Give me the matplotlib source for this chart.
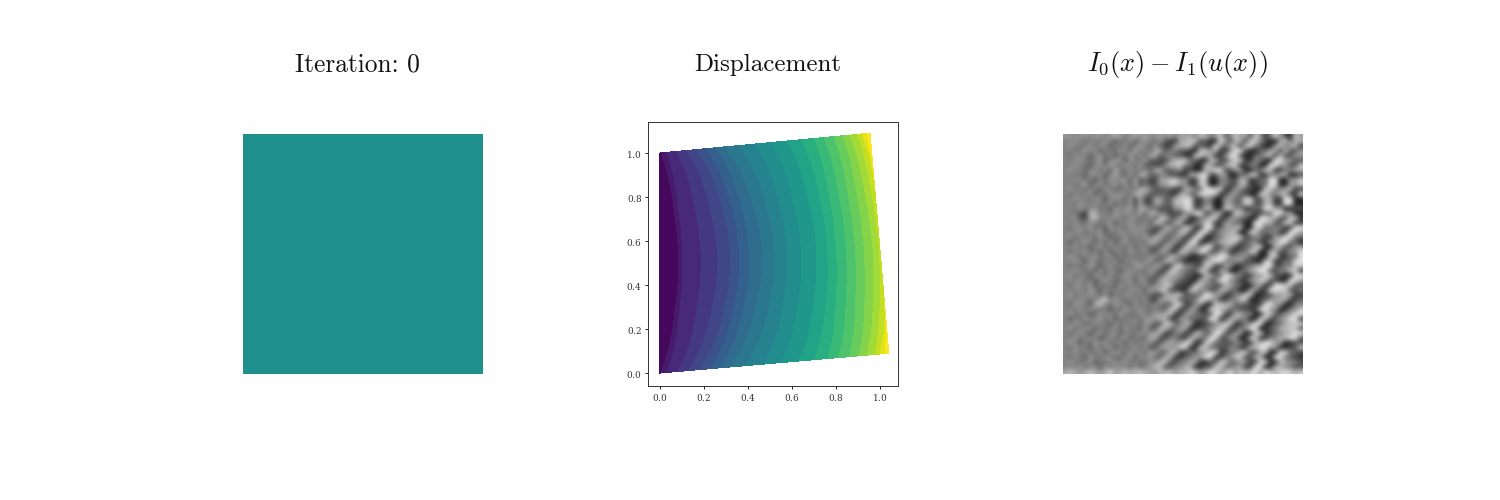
import numpy as np
import matplotlib
matplotlib.use('Agg')
import matplotlib.pyplot as plt

plt.rcParams['mathtext.fontset'] = 'cm'
plt.rcParams['axes.formatter.use_mathtext'] = True

titles = ['Iteration: 0', 'Displacement', r'$I_0(x) - I_1(u(x))$']
title_x = [357, 768, 1177]
title_size = [18.3, 18.0, 19.0]

# first panel, one flat value
iterate = [[0.0]]

# corners of the deformed square: bottom left, bottom right, top right, top left
corner_x = [0.0, 1.04, 0.955, 0.0]
corner_y = [0.0, 0.09, 1.09, 1.0]

# contour position along s at heights t (mirrored about t=0.5)
heights = [0.0, 0.05, 0.1, 0.175, 0.25, 0.375, 0.5]
contour_s = [
    [0.000, 0.000, 0.000, 0.000, 0.000, 0.000, 0.000],
    [0.005, 0.023, 0.038, 0.054, 0.065, 0.080, 0.086],
    [0.033, 0.049, 0.063, 0.076, 0.086, 0.100, 0.105],
    [0.080, 0.104, 0.125, 0.146, 0.161, 0.182, 0.190],
    [0.127, 0.157, 0.184, 0.210, 0.229, 0.255, 0.265],
    [0.175, 0.208, 0.236, 0.264, 0.285, 0.314, 0.324],
    [0.222, 0.253, 0.281, 0.308, 0.328, 0.355, 0.365],
    [0.266, 0.298, 0.325, 0.352, 0.373, 0.400, 0.410],
    [0.308, 0.344, 0.374, 0.405, 0.428, 0.459, 0.470],
    [0.378, 0.410, 0.438, 0.466, 0.487, 0.515, 0.525],
    [0.455, 0.483, 0.507, 0.532, 0.550, 0.574, 0.583],
    [0.530, 0.556, 0.578, 0.600, 0.617, 0.639, 0.647],
    [0.608, 0.632, 0.652, 0.672, 0.687, 0.708, 0.715],
    [0.675, 0.695, 0.712, 0.729, 0.742, 0.759, 0.765],
    [0.735, 0.750, 0.764, 0.777, 0.787, 0.800, 0.805],
    [0.782, 0.797, 0.810, 0.823, 0.832, 0.845, 0.850],
    [0.830, 0.843, 0.855, 0.866, 0.874, 0.886, 0.890],
    [0.872, 0.885, 0.896, 0.907, 0.915, 0.926, 0.930],
    [0.905, 0.919, 0.932, 0.944, 0.953, 0.965, 0.970],
    [0.940, 0.953, 0.964, 0.975, 0.983, 0.994, 0.998],
    [0.962, 0.975, 0.990, 0.999, 1.000, 1.000, 1.000],
    [0.985, 0.992, 0.999, 1.000, 1.000, 1.000, 1.000],
    [1.000, 1.000, 1.000, 1.000, 1.000, 1.000, 1.000],
]
contour_level = [0, 1, 2, 3, 4, 5, 6, 7, 8, 9, 10, 11, 12, 13, 14, 15, 16, 17, 18, 19, 20, 21]
right_edge_level = [22.0, 21.5, 21.2, 21.0, 21.0, 21.0, 21.0]

n_cols = 48
residual_rows = [
    "6656656656765676766767576758756845867386258631867",
    "5565455465354635744621177882411963772885311684772911",
    "5654564653546357446311778824229637728853116847729113",
    "5545656355465474638825533118867225993114477283366114",
    "5465535645354746388255331188672259931144772833661146",
    "5556545635663654722116889441177336882255119966338822",
    "5565435647546547221168894411773368822551199663388227",
    "565545646375465463883355221177993366114488225577113399",
    "5545365635744638833552211779933661144882255771133996",
    "5565453546566372411779966228811553377224499116688335",
    "55457356456463724117799662288115533772244991166883352",
    "5655455365445548862233117744998822663311885577229944",
    "5455563546565488622331177449988226633118855772299446",
    "5565546535654627117733889922551166448833772299115566",
    "55465555463546271177338899225511664488337722991155663",
    "5556556453655738844122669933771188552244996611337788",
    "5543187554656557388441226699337711885522449966113377882",
    "5562278555654654462993377115588226644119977338822551166",
    "5555465456355654629933771155882266441199773388225511669",
    "5465564536554656551177448822993366771188445522996611337",
    "5556455635465565511774488229933667711884455229966113377",
    "5645554653546455748833662299114477883355226699441188",
    "5355654546356454488336622991144778833552266994411883",
    "5564535645554636542277118855993366224488117733669922",
    "5455645363554654622771188559933662244881177336699225",
    "5654556456354545466338844112277995566331188224499773",
    "5565365454635564663388441122779955663311882244997736",
    "5454565356455467547711995533882266114477993355882266",
    "5565453645535654475119955338822661144779933558822661",
    "5645536546456546452288663311774499552266883311996677",
    "5556453565445636522886633117744995522668833119966771",
    "5465563545365554636699221188553377441166229988335577",
    "5556465364554655376992211885533774411662299883355771",
    "5645565453546555441177883344996622558811336677224499",
    "5556545795654554611778833449966225588113366772244995",
    "5465537854655364545533992266118877443322996611558844",
    "5556465453546556445339922661188774433229966115588443",
    "5645534655465446547788116644339922775511883366992255",
    "5354655646354554677881166443399227755118833669922557",
    "5565446553645554662299447711336688225599114477883366",
    "5645563545546453722994477113366882255991144778833663",
    "5456535645635546568811552277449933661188225577993344",
    "5564555346456354488115522774499336611882255779933446",
    "5653546564553645562277669911884433552277996611338855",
    "5465536456355464622776699118844335522779966113388557",
    "5564554635654655477338811446699225588337711994422663",
    "5455365465445636573388114466992255883377119944226638",
    "5654563546556454466992255771133884466229911775533881",
    "5556455364655463569922557711338844662299117755338817",
    "7876787679678789876989687986798679687896987898787",
]
# how strong the texture is across the columns, left to right
column_contrast = [0.7, 0.7, 0.6, 0.6, 0.7, 0.7, 0.7, 0.7, 0.7, 0.7, 0.7, 0.7,
                   0.7, 0.6, 0.6, 0.55, 0.5, 0.5, 0.5, 0.5, 0.55, 0.6, 0.65, 0.7,
                   0.75, 0.75, 0.8, 0.8, 0.8, 0.85, 0.85, 0.85, 0.85, 0.85, 0.85, 0.85,
                   0.85, 0.85, 0.85, 0.85, 0.85, 0.85, 0.85, 0.85, 0.85, 0.85, 0.85, 0.85]
residual = np.array([[int(c) for c in r[:n_cols]] for r in residual_rows], dtype=float)
residual = 4.6 + (residual - 5) * np.array(column_contrast)

W, H = 1500, 500


def px_axes(fig, left, top, right, bottom):
    return fig.add_axes([left / W, 1 - bottom / H, (right - left) / W, (bottom - top) / H])


fig = plt.figure(figsize=(15, 5), dpi=100)

ax = px_axes(fig, 243, 134, 483, 374)
ax.imshow(iterate, cmap='viridis', vmin=-1, vmax=1, aspect='auto')
ax.axis('off')

# map the s,t table onto the deformed square
half = np.array(contour_s)
s = np.hstack([half, half[:, -2::-1]])
t = np.array(heights + [1 - h for h in heights[-2::-1]])
tt = np.tile(t, (s.shape[0], 1))
cx, cy = np.array(corner_x), np.array(corner_y)
xs = (1 - s) * (1 - tt) * cx[0] + s * (1 - tt) * cx[1] + s * tt * cx[2] + (1 - s) * tt * cx[3]
ys = (1 - s) * (1 - tt) * cy[0] + s * (1 - tt) * cy[1] + s * tt * cy[2] + (1 - s) * tt * cy[3]
vals = np.tile(np.array(contour_level, dtype=float)[:, None], (1, s.shape[1]))
last = np.array(right_edge_level)
vals = np.vstack([vals, np.hstack([last, last[-2::-1]])])

ax = px_axes(fig, 648, 122, 898, 386)
ax.contourf(xs, ys, vals, levels=np.arange(0, 24), cmap='viridis', vmin=0, vmax=21.5)
ax.set_xlim(-0.0545, 1.082)
ax.set_ylim(-0.059, 1.141)
ax.set_xticks(np.arange(0, 1.01, 0.2))
ax.set_yticks(np.arange(0, 1.01, 0.2))
ax.tick_params(labelsize=6.4, length=2.5, width=0.6, pad=2, labelcolor='#333333')
for lab in ax.get_xticklabels() + ax.get_yticklabels():
    lab.set_family('DejaVu Serif')
for sp in ax.spines.values():
    sp.set_linewidth(0.7)
    sp.set_color('#333333')

ax = px_axes(fig, 1063, 134, 1303, 374)
ax.imshow(residual, cmap='gray', vmin=0, vmax=9, aspect='auto', interpolation='bicubic')
ax.axis('off')

for label, x, size in zip(titles, title_x, title_size):
    fig.text(x / W, 1 - 65 / H, label, ha='center', va='center', fontsize=size, family='cmr10', color='#111111')

fig.savefig('out.png', dpi=100, facecolor='#fefefe')
